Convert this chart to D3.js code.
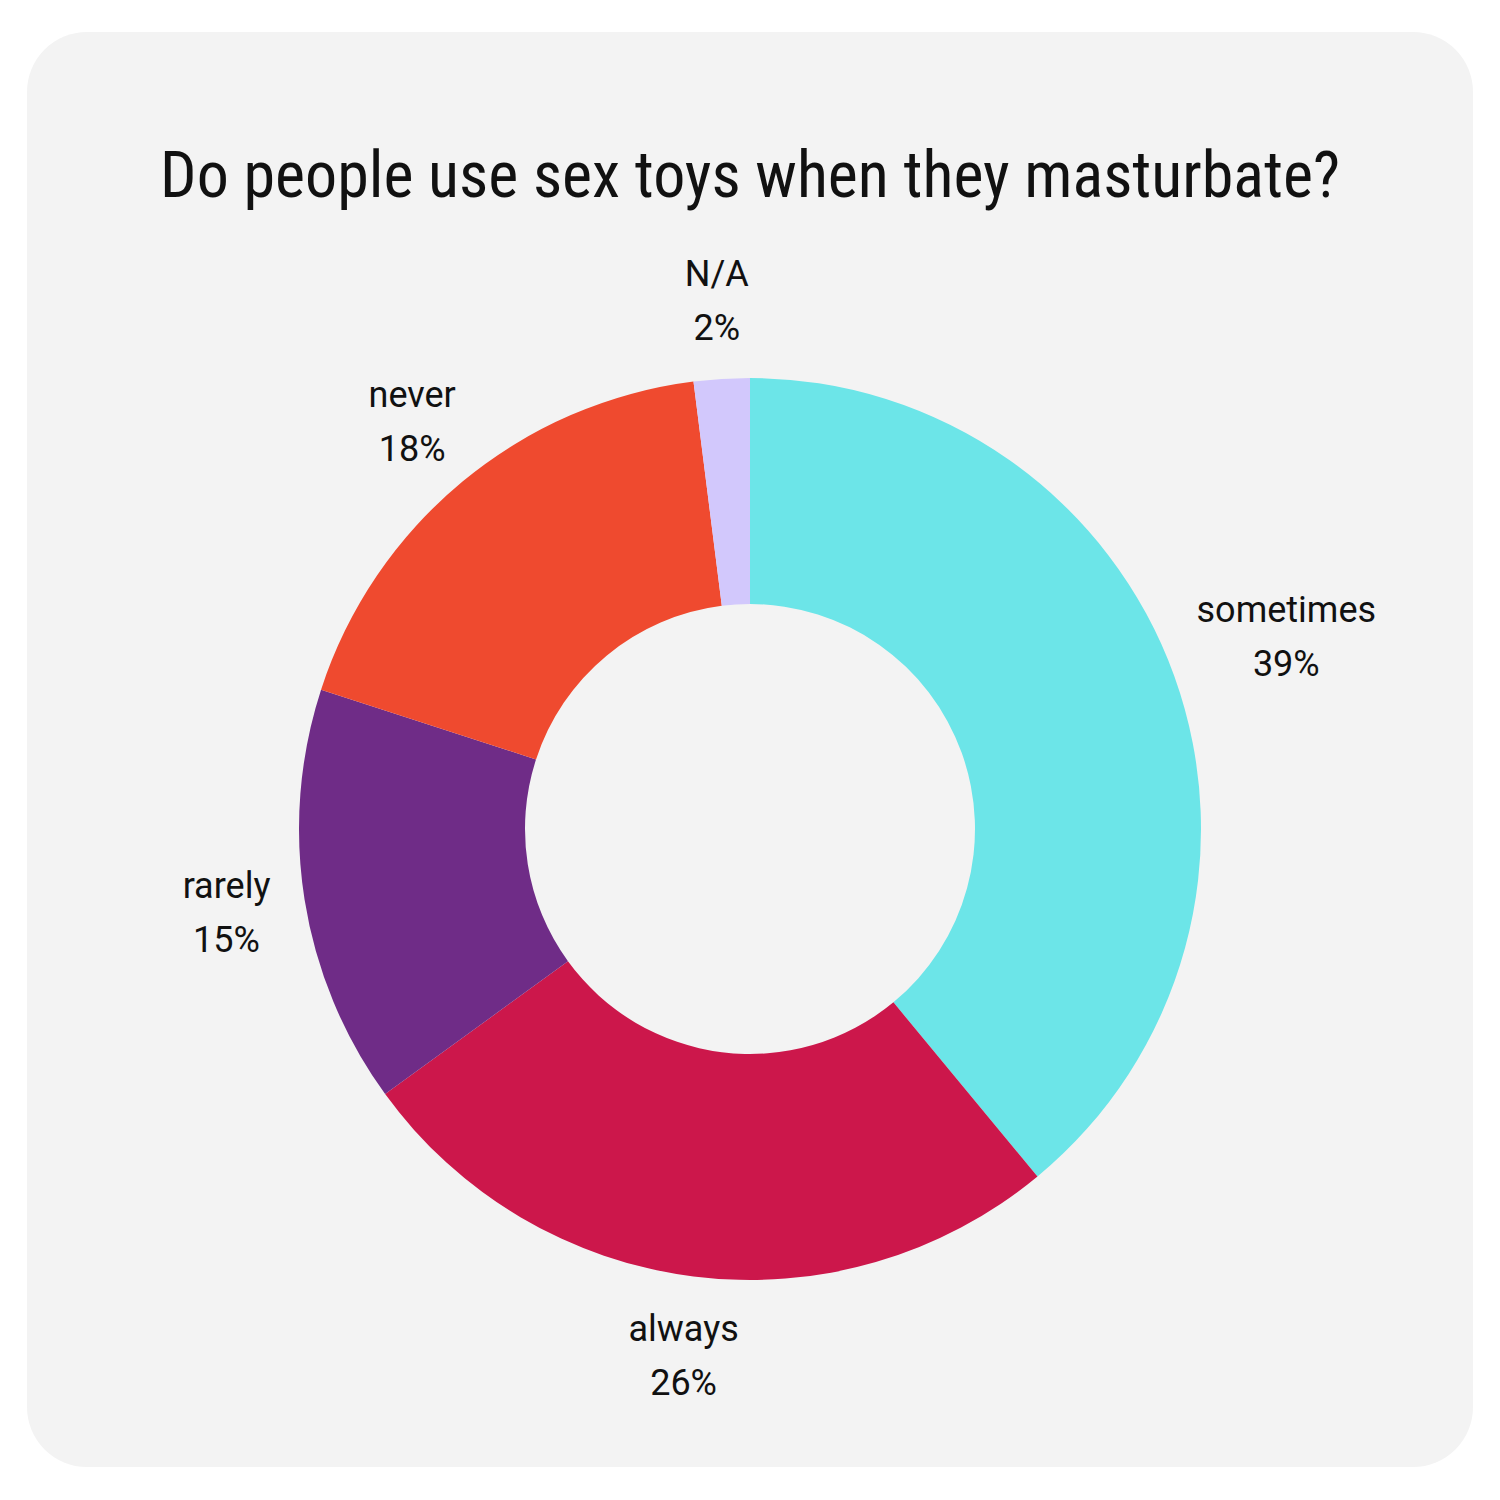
<!DOCTYPE html>
<html><head><meta charset="utf-8">
<script src="https://cdn.jsdelivr.net/npm/d3@7"></script>
<style>body{margin:0;background:#fff}</style>
</head><body><svg id="chart" width="1500" height="1500"></svg>
<script>
// data
var categories = ["sometimes", "always", "rarely", "never", "N/A"];
var values = [39, 26, 15, 18, 2];
var colors = ["#6ce5e8", "#cc174b", "#6f2c87", "#ef4a2f", "#d2c8fc"];
var title = "Do people use sex toys when they masturbate?";

var svg = d3.select("#chart");
svg.append("rect").attr("x", 27).attr("y", 32).attr("width", 1446).attr("height", 1435)
    .attr("rx", 60).attr("fill", "#f3f3f3");

svg.append("text").attr("x", 750).attr("y", 197).attr("text-anchor", "middle")
    .style("font-family", "'Liberation Sans Narrow', 'Roboto Condensed', 'DejaVu Sans Condensed', sans-serif")
    .style("font-stretch", "condensed")
    .style("font-size", "64px").attr("fill", "#111").text(title);

var rows = categories.map(function(c, i){ return {name: c, value: values[i], color: colors[i]}; });
var pie = d3.pie().value(function(d){ return d.value; }).sort(null);
var arc = d3.arc().innerRadius(225).outerRadius(451);

var g = svg.append("g").attr("transform", "translate(750,829)");
var arcs = pie(rows);

g.selectAll("path").data(arcs).enter().append("path")
    .attr("d", arc).attr("fill", function(d){ return d.data.color; });

// labels sit outside each slice
g.selectAll("text.lbl").data(arcs).enter().append("text")
    .attr("class", "lbl")
    .attr("text-anchor", "middle")
    .style("font-family", "Roboto, sans-serif").style("font-size", "36px").attr("fill", "#111")
    .each(function(d, i){
        var r = i === 0 ? 570 : 530;
        var a = (d.startAngle + d.endAngle) / 2;
        var x = Math.sin(a) * r, y = -Math.cos(a) * r;
        var t = d3.select(this);
        t.append("tspan").attr("x", x).attr("y", y - 14).text(d.data.name);
        t.append("tspan").attr("x", x).attr("y", y + 40).text(d.data.value + "%");
    });
</script></body></html>
